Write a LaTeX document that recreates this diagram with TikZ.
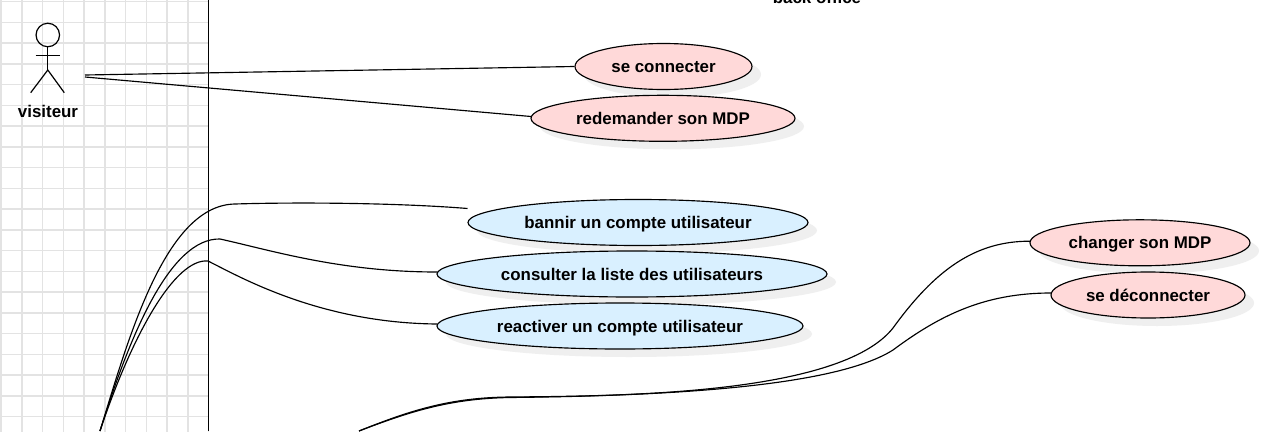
\documentclass[tikz,border=0pt]{standalone}
\usepackage{fontspec}
\setmainfont{Liberation Sans}
\usetikzlibrary{shapes.geometric,shadows}
\definecolor{casepink}{HTML}{FFD9D9}
\definecolor{caseblue}{HTML}{D9F0FF}
\definecolor{caseshadow}{HTML}{EFEFEF}
\definecolor{gridgrey}{HTML}{E3E3E3}
\tikzset{
	usecase/.style={ellipse, draw=black, line width=1.15pt, inner sep=0pt, minimum height=46pt, text height=15.4pt, text depth=3.1pt, font=\fontsize{16.9}{18}\selectfont\bfseries, drop shadow={shadow xshift=9pt, shadow yshift=-8pt, fill=caseshadow, opacity=1}},
	pinkcase/.style={usecase, fill=casepink},
	bluecase/.style={usecase, fill=caseblue},
	boldlabel/.style={inner sep=0pt, font=\fontsize{16.9}{18}\selectfont\bfseries},
	link/.style={line width=1.15pt, black},
	stick/.style={line width=1.2pt, black}
}

\begin{document}
\begin{tikzpicture}[x=1pt, y=-1pt]
			\useasboundingbox (0,0) rectangle (1287,431);
			\clip (0,0) rectangle (1287,431);
			\fill[white] (0,0) rectangle (1287,431);
			\begin{scope}
				\clip (0,0) rectangle (208.5,431);
				\draw[gridgrey, line width=1.5pt, xshift=1pt, yshift=-1.7pt, step=20.75pt] (-21,-21) grid (230,450);
			\end{scope}
			\coordinate (boundtop) at (208.7,0);
			\coordinate (boundbot) at (208.7,431);
			\draw[link] (boundtop) -- (boundbot);
			\node[boldlabel](backoffice) at (817,-3){back office};

			\node[circle, draw=black, line width=1.2pt, inner sep=0pt, minimum size=23.5pt](head) at (47.8,35){};
			\coordinate (armleft) at (35.5,55.3);
			\coordinate (armright) at (60,55.3);
			\coordinate (hip) at (47.8,70);
			\coordinate (footleft) at (30.7,92.7);
			\coordinate (footright) at (64.3,92.7);
			\draw[stick] (head.south) -- (hip);
			\draw[stick] (armleft) -- (armright);
			\draw[stick] (footleft) -- (hip) -- (footright);
			\node[boldlabel](visiteur) at (48,111.5){visiteur};

			\node[pinkcase, minimum width=177pt](connecter) at (663.5,66.5){se connecter};
			\node[pinkcase, minimum width=264pt](redemander) at (663,118.3){redemander son MDP};
			\node[bluecase, minimum width=340pt](bannir) at (638,222.5){bannir un compte utilisateur};
			\node[bluecase, minimum width=390pt](consulter) at (632,274){consulter la liste des utilisateurs};
			\node[bluecase, minimum width=366pt](reactiver) at (620,326){reactiver un compte utilisateur};
			\node[pinkcase, minimum width=220pt](changer) at (1140,242.8){changer son MDP};
			\node[pinkcase, minimum width=194pt](deconnecter) at (1148,295){se déconnecter};

			\coordinate (visiteurhaut) at (85,75);
			\coordinate (visiteurbas) at (85,77);
			\coordinate (admin) at (100,431);
			\coordinate (membre) at (359,431);
			\coordinate (bannirbord) at (467.5,208.5);
			\coordinate (consulterbord) at (437,272);
			\coordinate (reactiverbord) at (437,324);
			\coordinate (redemanderbord) at (531,116.5);
			\coordinate (changerbord) at (1030,241.2);
			\coordinate (deconnecterbord) at (1051,293);

			\draw[link] (visiteurhaut) -- (connecter.west);
			\draw[link] (visiteurbas) -- (redemanderbord);
			\draw[link] (admin) .. controls (128,340) and (165,205) .. (235,204) .. controls (300,202) and (400,203) .. (bannirbord);
			\draw[link] (admin) .. controls (130,335) and (170,238) .. (220,239) .. controls (270,250) and (340,272) .. (consulterbord);
			\draw[link] (admin) .. controls (132,335) and (175,258) .. (208,261) .. controls (240,277) and (320,323) .. (reactiverbord);
			\draw[link] (membre) .. controls (410,410.5) and (450,397.5) .. (510,397) .. controls (620,396) and (840,395) .. (893,328) .. controls (935,270) and (975,241) .. (changerbord);
			\draw[link] (membre) .. controls (410,411.5) and (450,398.5) .. (510,397.5) .. controls (640,396) and (830,390) .. (893,350) .. controls (940,315) and (985,293) .. (deconnecterbord);
			\end{tikzpicture}
\end{document}
